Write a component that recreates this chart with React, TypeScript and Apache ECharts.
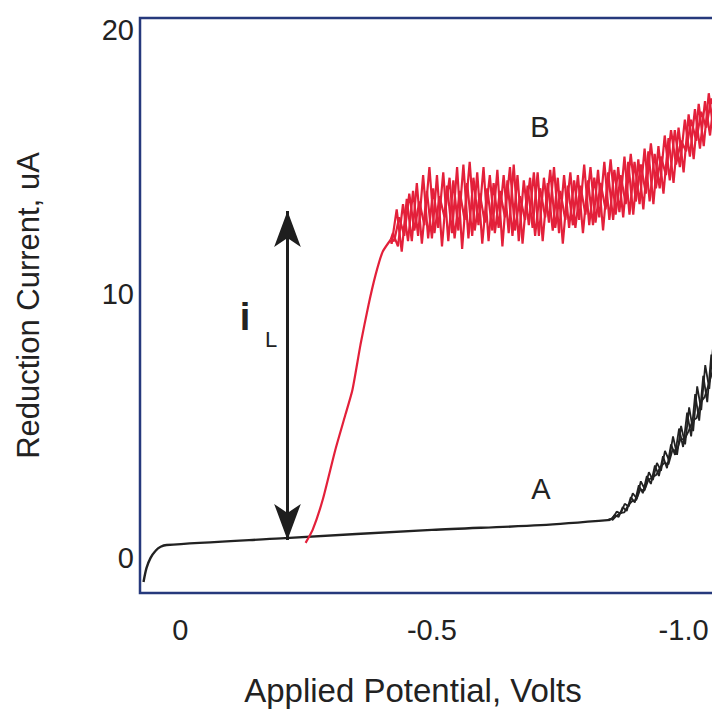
import React, { useEffect, useRef } from "react";
import * as echarts from "echarts";

// Axis ticks
const X_TICKS = [0, -0.5, -1.0];
const Y_TICKS = [0, 10, 20];

// Curve A: common baseline (Volts, uA)
const A_BASE_V = [0.073, 0.067, 0.059, 0.049, 0.039, 0.027, -0.2, -0.5, -0.716, -0.855];
const A_BASE_I = [-0.91, -0.38, 0.0, 0.27, 0.42, 0.49, 0.74, 1.06, 1.24, 1.44];

// Curve A: rising noisy scans
const A_RISE_V = [-0.855, -0.863, -0.871, -0.879, -0.887, -0.895, -0.903, -0.911, -0.919, -0.927, -0.935, -0.943, -0.951, -0.959, -0.967, -0.975, -0.983, -0.991, -0.999, -1.007, -1.015, -1.023, -1.031, -1.039, -1.047, -1.055, -1.063, -1.071];
const A1_I = [1.44, 1.62, 1.55, 1.92, 1.78, 2.3, 2.1, 2.75, 2.45, 3.1, 2.8, 3.5, 3.1, 3.85, 3.4, 4.3, 3.9, 4.9, 4.2, 5.5, 4.6, 6.2, 5.2, 6.9, 5.9, 7.7, 7.0, 8.4];
const A2_I = [1.46, 1.5, 1.75, 1.68, 2.05, 1.95, 2.45, 2.25, 2.9, 2.6, 3.25, 2.95, 3.6, 3.3, 4.05, 3.7, 4.6, 3.9, 5.0, 4.3, 5.7, 4.8, 6.5, 5.6, 7.3, 6.4, 8.1, 7.5];
const A3_I = [1.42, 1.58, 1.7, 1.72, 2.0, 2.15, 2.2, 2.6, 2.55, 2.95, 3.05, 3.15, 3.45, 3.6, 3.55, 4.1, 4.05, 4.5, 4.5, 4.8, 5.2, 5.3, 5.9, 6.1, 6.6, 7.1, 7.6, 8.1];
const A_SCAN_SHIFT = [0, 0.004, -0.003];

// Curve B: rising wave
const B_RISE_V = [-0.249, -0.263, -0.283, -0.308, -0.328, -0.342, -0.358, -0.374, -0.388, -0.402, -0.418];
const B_RISE_I = [0.57, 1.06, 2.2, 4.09, 5.42, 6.36, 8.07, 9.58, 10.72, 11.59, 12.05];

// Curve B: noisy plateau, three scans
const B_V = [-0.42, -0.43, -0.44, -0.45, -0.46, -0.47, -0.48, -0.49, -0.5, -0.51, -0.52, -0.53, -0.54, -0.55, -0.56, -0.57, -0.58, -0.59, -0.6, -0.61, -0.62, -0.63, -0.64, -0.65, -0.66, -0.67, -0.68, -0.69, -0.7, -0.71, -0.72, -0.73, -0.74, -0.75, -0.76, -0.77, -0.78, -0.79, -0.8, -0.81, -0.82, -0.83, -0.84, -0.85, -0.86, -0.87, -0.88, -0.89, -0.9, -0.91, -0.92, -0.93, -0.94, -0.95, -0.96, -0.97, -0.98, -0.99, -1.0, -1.01, -1.02, -1.03, -1.04, -1.05, -1.06, -1.07];
const B1_I = [11.9, 13.2, 11.6, 13.6, 12.0, 14.2, 11.9, 13.9, 12.1, 14.5, 11.8, 14.1, 12.3, 14.8, 11.7, 14.2, 12.2, 14.6, 11.9, 14.0, 12.4, 14.7, 11.8, 14.3, 12.2, 14.5, 11.9, 14.1, 12.5, 14.6, 12.0, 14.2, 12.4, 14.4, 11.9, 14.1, 12.6, 14.5, 12.3, 14.3, 12.6, 14.7, 12.4, 14.6, 12.8, 14.8, 12.9, 15.0, 13.0, 15.1, 13.2, 15.4, 13.4, 15.6, 13.8, 15.9, 14.2, 16.3, 14.6, 16.8, 15.1, 17.2, 15.6, 17.6, 16.1, 17.9];
const B2_I = [12.3, 11.8, 13.4, 12.0, 13.9, 12.2, 14.5, 12.1, 14.0, 12.5, 14.6, 12.0, 14.3, 12.4, 14.9, 12.1, 14.4, 12.6, 14.8, 12.0, 14.2, 12.5, 14.5, 12.3, 14.9, 12.0, 14.3, 12.6, 14.6, 12.2, 14.4, 12.7, 14.8, 12.3, 14.5, 12.5, 14.3, 12.8, 14.9, 12.6, 14.4, 12.9, 15.0, 12.8, 14.7, 13.1, 15.2, 13.0, 15.0, 13.4, 15.5, 13.5, 15.3, 14.0, 16.0, 14.3, 16.2, 14.8, 16.6, 15.2, 17.0, 15.5, 17.3, 16.0, 17.7, 16.4];
const B3_I = [12.0, 12.9, 12.2, 13.8, 12.4, 13.5, 12.6, 14.8, 12.3, 13.7, 12.9, 14.4, 12.1, 13.9, 12.8, 15.0, 12.4, 13.8, 12.7, 14.5, 12.3, 13.9, 12.9, 14.8, 12.4, 13.7, 12.8, 14.4, 12.2, 14.0, 12.9, 14.7, 12.5, 13.9, 12.8, 14.6, 12.5, 14.1, 13.0, 14.8, 12.7, 14.2, 13.2, 15.1, 13.0, 14.5, 13.4, 15.3, 13.5, 14.9, 13.8, 15.7, 14.0, 15.2, 14.5, 16.2, 14.9, 15.8, 15.4, 16.6, 15.8, 16.9, 16.3, 17.4, 16.8, 17.8];
const B_SCAN_SHIFT = [0, -0.0025, -0.005];

// Limiting-current arrow (Volts, uA)
const ARROW_V = -0.213;
const ARROW_BOTTOM = 0.68;
const ARROW_TOP = 13.14;

const zip = (xs: number[], ys: number[], dx = 0) => xs.map((x, i) => [x + dx, ys[i]]);

const FONT = "'Liberation Sans', Arial, Helvetica, sans-serif";
const RED = "#e3203a";
const BLACK = "#222222";
const FRAME = "#26397c";

export default function App() {
  const ref = useRef<HTMLDivElement>(null);
  useEffect(() => {
    const chart = echarts.init(ref.current!, null, { renderer: "svg" });
    const baseData = zip(A_BASE_V, A_BASE_I);
    const aScans = [A1_I, A2_I, A3_I].map((ys, k) => ({
      type: "line",
      data: zip(A_RISE_V, ys, A_SCAN_SHIFT[k]),
      showSymbol: false,
      lineStyle: { color: BLACK, width: 1.8 },
      z: 3,
    }));
    const bRise = zip(B_RISE_V, B_RISE_I);
    const bScans = [B1_I, B2_I, B3_I].map((ys, k) => ({
      type: "line",
      data: [bRise[bRise.length - 1], ...zip(B_V, ys, B_SCAN_SHIFT[k])],
      showSymbol: false,
      lineStyle: { color: RED, width: 2.2 },
      z: 4,
    }));
    chart.setOption({
      animation: false,
      backgroundColor: "#ffffff",
      grid: {
        left: 140,
        top: 18,
        width: 604,
        height: 575,
        show: true,
        borderColor: FRAME,
        borderWidth: 2.5,
        backgroundColor: "transparent",
      },
      xAxis: {
        type: "value",
        min: -1.12,
        max: 0.08,
        inverse: true,
        axisLine: { show: false },
        axisTick: { show: false },
        splitLine: { show: false },
        axisLabel: {
          customValues: X_TICKS,
          formatter: (v: number) => (v === 0 ? "0" : v.toFixed(1)),
          fontSize: 29,
          color: BLACK,
          fontFamily: FONT,
          margin: 22,
        },
      },
      yAxis: {
        type: "value",
        min: -1.33,
        max: 20.45,
        axisLine: { show: false },
        axisTick: { show: false },
        splitLine: { show: false },
        axisLabel: {
          customValues: Y_TICKS,
          fontSize: 29,
          color: BLACK,
          fontFamily: FONT,
          margin: 6,
        },
        name: "Reduction Current, uA",
        nameLocation: "middle",
        nameGap: 96,
        nameTextStyle: { fontSize: 31, color: BLACK, fontFamily: FONT },
      },
      graphic: [
        {
          type: "text",
          x: 413,
          y: 690,
          style: { text: "Applied Potential, Volts", font: `33px ${FONT}`, fill: BLACK, align: "center", verticalAlign: "middle" },
        },
        {
          type: "text",
          x: 540,
          y: 127,
          style: { text: "B", font: `29px ${FONT}`, fill: BLACK, align: "center", verticalAlign: "middle" },
        },
        {
          type: "text",
          x: 541,
          y: 489,
          style: { text: "A", font: `29px ${FONT}`, fill: BLACK, align: "center", verticalAlign: "middle" },
        },
        {
          type: "text",
          x: 245,
          y: 317,
          style: { text: "i", font: `bold 38px ${FONT}`, fill: BLACK, align: "center", verticalAlign: "middle" },
        },
        {
          type: "text",
          x: 271,
          y: 339,
          style: { text: "L", font: `22px ${FONT}`, fill: BLACK, align: "center", verticalAlign: "middle" },
        },
      ],
      series: [
        {
          type: "line",
          data: baseData,
          showSymbol: false,
          smooth: 0.3,
          lineStyle: { color: BLACK, width: 2.4 },
          z: 3,
          markLine: {
            silent: true,
            symbol: ["arrow", "arrow"],
            symbolSize: [20, 36],
            lineStyle: { color: "#1e1e1e", width: 3, type: "solid" },
            label: { show: false },
            emphasis: { disabled: true },
            data: [[{ coord: [ARROW_V, ARROW_BOTTOM] }, { coord: [ARROW_V, ARROW_TOP] }]],
          },
        },
        ...aScans,
        {
          type: "line",
          data: bRise,
          showSymbol: false,
          smooth: 0.2,
          lineStyle: { color: RED, width: 2.2 },
          z: 4,
        },
        ...bScans,
      ],
    });
    return () => chart.dispose();
  }, []);
  return (
    <div style={{ position: "fixed", left: 0, top: 0, width: 712, height: 717, overflow: "hidden", background: "#fff" }}>
      <div ref={ref} style={{ width: 760, height: 717 }} />
    </div>
  );
}
